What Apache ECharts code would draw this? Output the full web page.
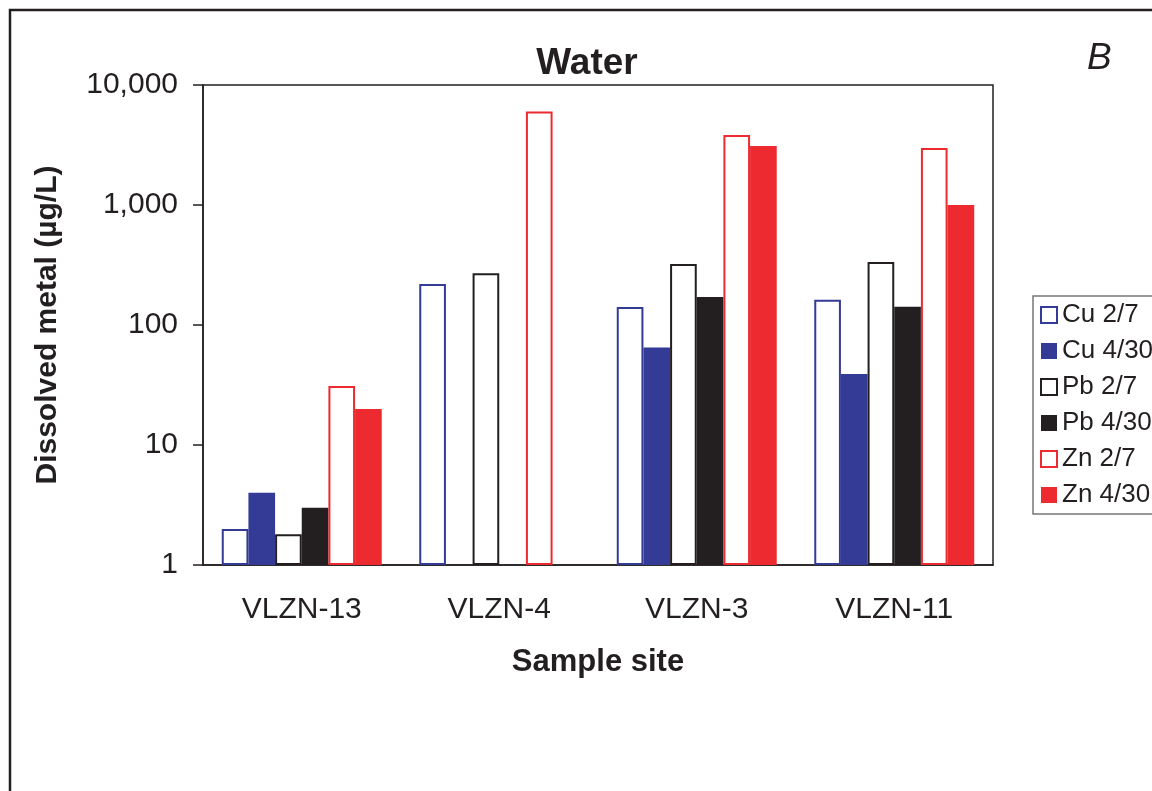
<!DOCTYPE html>
<html>
<head>
<meta charset="utf-8">
<script src="https://cdn.jsdelivr.net/npm/echarts@6/dist/echarts.min.js"></script>
<style>
  html, body { margin: 0; padding: 0; background: #fff; }
  #chart { width: 1152px; height: 791px; }
</style>
</head>
<body>
<div id="chart"></div>
<script>
// sites along the x axis
var sites = ['VLZN-13', 'VLZN-4', 'VLZN-3', 'VLZN-11'];
// dissolved metal, µg/L ('-' = not sampled)
var cuFeb = [2, 220, 141, 162];
var cuApr = [4, '-', 65, 39];
var pbFeb = [1.8, 270, 322, 335];
var pbApr = [3, '-', 171, 142];
var znFeb = [31, 6000, 3830, 2990];
var znApr = [20, '-', 3100, 1000];
var yTicks = [1, 10, 100, 1000, 10000];

var BLUE = '#333b97', BLACK = '#231f20', RED = '#ec2a30';
var FONT = '"Liberation Sans", Arial, sans-serif';

function hollow(name, data, color) {
  return {
    name: name, type: 'bar', data: data,
    barGap: '0%', barCategoryGap: '19%',
    itemStyle: { color: '#fff', borderColor: color, borderWidth: 2 }
  };
}
function solid(name, data, color) {
  return {
    name: name, type: 'bar', data: data,
    barGap: '0%', barCategoryGap: '19%',
    itemStyle: { color: color }
  };
}

var chart = echarts.init(document.getElementById('chart'));
chart.setOption({
  animation: false,
  backgroundColor: '#fff',
  textStyle: { fontFamily: FONT, color: BLACK },
  grid: { left: 203, top: 85, right: 159, bottom: 226, show: true, borderColor: BLACK, borderWidth: 1.5 },
  title: {
    text: 'Water', left: 582, top: 40, textAlign: 'center',
    textStyle: { fontFamily: FONT, fontSize: 37, fontWeight: 'bold', color: BLACK }
  },
  legend: {
    orient: 'vertical', left: 1033, top: 296,
    padding: [6, 20, 6, 7],
    borderColor: '#777', borderWidth: 1.5,
    icon: 'rect', itemWidth: 16, itemHeight: 16, itemGap: 10,
    textStyle: { fontFamily: FONT, fontSize: 26, color: BLACK, lineHeight: 26 },
    data: ['Cu 2/7', 'Cu 4/30', 'Pb 2/7', 'Pb 4/30', 'Zn 2/7', 'Zn 4/30']
  },
  xAxis: {
    type: 'category', data: sites,
    name: 'Sample site', nameLocation: 'middle', nameGap: 82,
    nameTextStyle: { fontFamily: FONT, fontSize: 31, fontWeight: 'bold', color: BLACK },
    axisLine: { lineStyle: { color: BLACK, width: 1.5 } },
    axisTick: { length: 10, lineStyle: { color: BLACK, width: 1.5 } },
    axisLabel: { fontFamily: FONT, fontSize: 30, color: BLACK, margin: 30 }
  },
  yAxis: {
    type: 'log', logBase: 10, min: 1, max: 10000,
    name: 'Dissolved metal (\u00b5g/L)', nameLocation: 'middle', nameGap: 140,
    nameTextStyle: { fontFamily: FONT, fontSize: 30, fontWeight: 'bold', color: BLACK },
    axisLine: { show: true, lineStyle: { color: BLACK, width: 1.5 } },
    axisTick: { show: true, length: 10, lineStyle: { color: BLACK, width: 1.5 } },
    splitLine: { show: false },
    axisLabel: {
      fontFamily: FONT, fontSize: 30, color: BLACK, margin: 25,
      formatter: function (v) { return yTicks.indexOf(Math.round(v)) >= 0 ? Math.round(v).toLocaleString('en-US') : ''; }
    }
  },
  graphic: [
    { type: 'rect', shape: { x: 10, y: 10, width: 1400, height: 1000 },
      style: { fill: null, stroke: BLACK, lineWidth: 2.5 }, silent: true },
    { type: 'text', left: 1087, top: 40,
      style: { text: 'B', font: 'italic 37px ' + FONT, fill: BLACK } }
  ],
  series: [
    hollow('Cu 2/7', cuFeb, BLUE),
    solid('Cu 4/30', cuApr, BLUE),
    hollow('Pb 2/7', pbFeb, BLACK),
    solid('Pb 4/30', pbApr, BLACK),
    hollow('Zn 2/7', znFeb, RED),
    solid('Zn 4/30', znApr, RED)
  ]
});
</script>
</body>
</html>
